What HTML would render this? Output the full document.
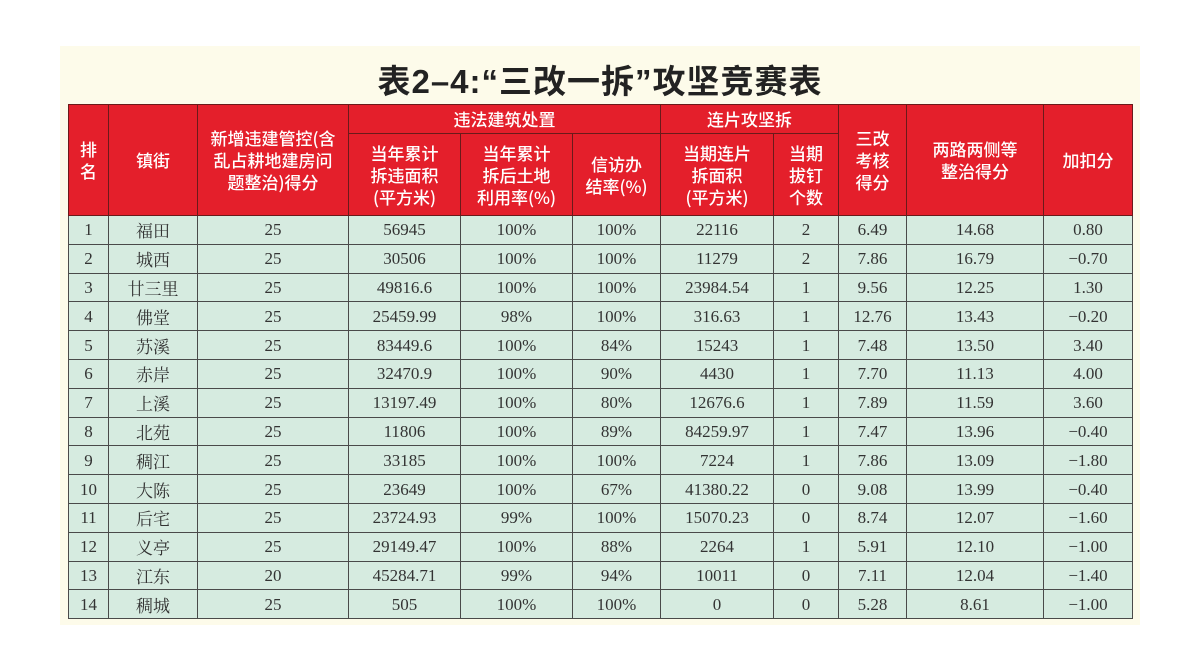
<!DOCTYPE html>
<html><head><meta charset="utf-8"><style>
body{margin:0;width:1200px;height:669px;background:#fff;position:relative;overflow:hidden;font-family:"Liberation Serif","Noto Serif CJK SC",serif}
.panel{position:absolute;left:60px;top:46px;width:1080px;height:579px;background:#fdfbea}
.title{position:absolute;left:0;width:1200px;top:55px;text-align:center;font:bold 33px "Liberation Sans","Noto Sans CJK SC",sans-serif;color:#222;letter-spacing:1px}
table{position:absolute;left:68px;top:104px;border-collapse:collapse;table-layout:fixed}
td,th{border:1.5px solid #4a4a4a;text-align:center;padding:0}
th{background:#e41f2b;color:#fff;font:500 17px "Noto Sans CJK SC",sans-serif;line-height:22px;border-color:#6a1a1a}
td{background:#d6ebe0;color:#333;font-size:17px;line-height:27px}
tr.r{height:28.8px}
td.n{font-family:"Noto Serif CJK SC",serif;font-size:17px}
</style></head><body>
<div class="panel"></div>
<div class="title">表2–4:“三改一拆”攻坚竞赛表</div>
<table>
<colgroup><col style="width:40px"><col style="width:89px"><col style="width:151px"><col style="width:112px"><col style="width:112px"><col style="width:88px"><col style="width:113px"><col style="width:65px"><col style="width:68px"><col style="width:137px"><col style="width:89px"></colgroup>
<tr style="height:29px"><th rowspan="2">排<br>名</th><th rowspan="2">镇街</th><th rowspan="2">新增违建管控(含<br>乱占耕地建房问<br>题整治)得分</th><th colspan="3">违法建筑处置</th><th colspan="2">连片攻坚拆</th><th rowspan="2">三改<br>考核<br>得分</th><th rowspan="2">两路两侧等<br>整治得分</th><th rowspan="2">加扣分</th></tr>
<tr style="height:82px"><th>当年累计<br>拆违面积<br>(平方米)</th><th>当年累计<br>拆后土地<br>利用率(%)</th><th>信访办<br>结率(%)</th><th>当期连片<br>拆面积<br>(平方米)</th><th>当期<br>拔钉<br>个数</th></tr>
<tr class="r"><td>1</td><td class="n">福田</td><td>25</td><td>56945</td><td>100%</td><td>100%</td><td>22116</td><td>2</td><td>6.49</td><td>14.68</td><td>0.80</td></tr>
<tr class="r"><td>2</td><td class="n">城西</td><td>25</td><td>30506</td><td>100%</td><td>100%</td><td>11279</td><td>2</td><td>7.86</td><td>16.79</td><td>−0.70</td></tr>
<tr class="r"><td>3</td><td class="n">廿三里</td><td>25</td><td>49816.6</td><td>100%</td><td>100%</td><td>23984.54</td><td>1</td><td>9.56</td><td>12.25</td><td>1.30</td></tr>
<tr class="r"><td>4</td><td class="n">佛堂</td><td>25</td><td>25459.99</td><td>98%</td><td>100%</td><td>316.63</td><td>1</td><td>12.76</td><td>13.43</td><td>−0.20</td></tr>
<tr class="r"><td>5</td><td class="n">苏溪</td><td>25</td><td>83449.6</td><td>100%</td><td>84%</td><td>15243</td><td>1</td><td>7.48</td><td>13.50</td><td>3.40</td></tr>
<tr class="r"><td>6</td><td class="n">赤岸</td><td>25</td><td>32470.9</td><td>100%</td><td>90%</td><td>4430</td><td>1</td><td>7.70</td><td>11.13</td><td>4.00</td></tr>
<tr class="r"><td>7</td><td class="n">上溪</td><td>25</td><td>13197.49</td><td>100%</td><td>80%</td><td>12676.6</td><td>1</td><td>7.89</td><td>11.59</td><td>3.60</td></tr>
<tr class="r"><td>8</td><td class="n">北苑</td><td>25</td><td>11806</td><td>100%</td><td>89%</td><td>84259.97</td><td>1</td><td>7.47</td><td>13.96</td><td>−0.40</td></tr>
<tr class="r"><td>9</td><td class="n">稠江</td><td>25</td><td>33185</td><td>100%</td><td>100%</td><td>7224</td><td>1</td><td>7.86</td><td>13.09</td><td>−1.80</td></tr>
<tr class="r"><td>10</td><td class="n">大陈</td><td>25</td><td>23649</td><td>100%</td><td>67%</td><td>41380.22</td><td>0</td><td>9.08</td><td>13.99</td><td>−0.40</td></tr>
<tr class="r"><td>11</td><td class="n">后宅</td><td>25</td><td>23724.93</td><td>99%</td><td>100%</td><td>15070.23</td><td>0</td><td>8.74</td><td>12.07</td><td>−1.60</td></tr>
<tr class="r"><td>12</td><td class="n">义亭</td><td>25</td><td>29149.47</td><td>100%</td><td>88%</td><td>2264</td><td>1</td><td>5.91</td><td>12.10</td><td>−1.00</td></tr>
<tr class="r"><td>13</td><td class="n">江东</td><td>20</td><td>45284.71</td><td>99%</td><td>94%</td><td>10011</td><td>0</td><td>7.11</td><td>12.04</td><td>−1.40</td></tr>
<tr class="r"><td>14</td><td class="n">稠城</td><td>25</td><td>505</td><td>100%</td><td>100%</td><td>0</td><td>0</td><td>5.28</td><td>8.61</td><td>−1.00</td></tr>
</table>
</body></html>
